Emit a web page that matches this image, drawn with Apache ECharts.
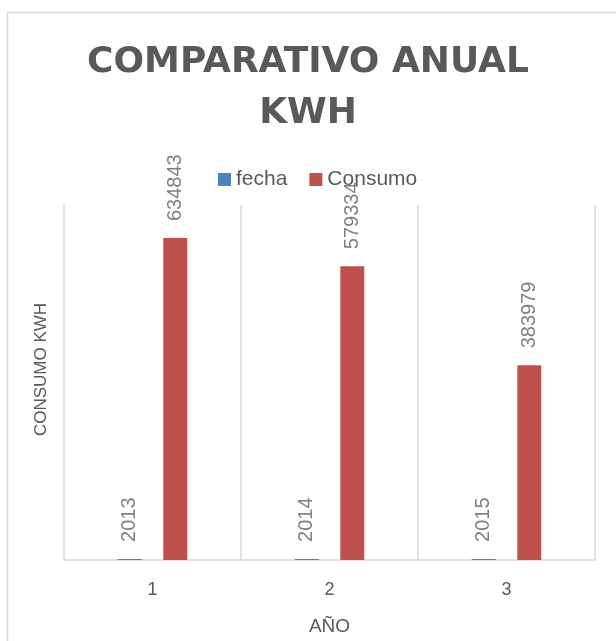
<!DOCTYPE html>
<html>
<head>
<meta charset="utf-8">
<script src="https://cdn.jsdelivr.net/npm/echarts@6/dist/echarts.min.js"></script>
<style>
html,body{margin:0;padding:0;background:#fff;}
#chart{width:616px;height:641px;}
</style>
</head>
<body>
<div id="chart"></div>
<script>
const categories = ['1', '2', '3'];
const seriesNames = ['fecha', 'Consumo'];
const fechaValues = [2013, 2014, 2015];
const consumoValues = [634843, 579334, 383979];
const titleText = 'COMPARATIVO ANUAL\nKWH';
const xAxisName = 'AÑO';
const yAxisName = 'CONSUMO KWH';

const chart = echarts.init(document.getElementById('chart'), null, {renderer: 'canvas'});
const labelStyle = {
  show: true,
  position: 'top',
  rotate: 90,
  align: 'left',
  verticalAlign: 'middle',
  distance: 17,
  color: '#808080',
  fontSize: 20,
  fontFamily: 'Liberation Sans'
};
chart.setOption({
  backgroundColor: '#ffffff',
  animation: false,
  graphic: [{
    type: 'rect',
    shape: {x: 7.5, y: 12.5, width: 800, height: 800},
    style: {fill: 'none', stroke: '#d9d9d9', lineWidth: 1.5},
    silent: true, z: -10
  }],
  title: {
    text: titleText,
    left: 'center',
    top: 37,
    padding: [0, 0, 0, 16],
    textStyle: {
      fontFamily: 'DejaVu Sans',
      fontWeight: 'bold',
      fontSize: 36,
      lineHeight: 51,
      color: '#595959'
    }
  },
  legend: {
    data: seriesNames,
    left: 218,
    top: 169,
    itemWidth: 13,
    itemHeight: 13,
    itemGap: 22,
    icon: 'rect',
    padding: 0,
    textStyle: {fontFamily: 'Liberation Sans', fontSize: 21, color: '#595959', padding: [0, 0, 0, 0]}
  },
  grid: {left: 64, right: 21, top: 205, bottom: 74, containLabel: false},
  xAxis: {
    type: 'category',
    data: categories,
    boundaryGap: true,
    name: xAxisName,
    nameLocation: 'middle',
    nameGap: 57,
    nameTextStyle: {fontFamily: 'Liberation Sans', fontSize: 19, color: '#595959'},
    axisLine: {show: true, lineStyle: {color: '#d9d9d9', width: 1.5}},
    axisTick: {show: false},
    axisLabel: {margin: 21, fontFamily: 'Liberation Sans', fontSize: 18, color: '#595959'},
    splitLine: {show: true, lineStyle: {color: '#d9d9d9', width: 1.5}}
  },
  yAxis: {
    type: 'value',
    min: 0,
    max: 700000,
    interval: 100000,
    name: yAxisName,
    nameLocation: 'middle',
    nameGap: 14,
    nameTextStyle: {fontFamily: 'Liberation Sans', fontSize: 17, color: '#595959', padding: [0, 0, 0, 26]},
    axisLine: {show: false},
    axisTick: {show: false},
    axisLabel: {show: false},
    splitLine: {show: false}
  },
  series: [{
    name: seriesNames[0],
    type: 'bar',
    data: fechaValues,
    barWidth: 24,
    barGap: '90%',
    itemStyle: {color: '#4f81bd'},
    label: labelStyle
  }, {
    name: seriesNames[1],
    type: 'bar',
    data: consumoValues,
    barWidth: 24,
    barGap: '90%',
    itemStyle: {color: '#c0504d'},
    label: labelStyle
  }]
});
</script>
</body>
</html>
